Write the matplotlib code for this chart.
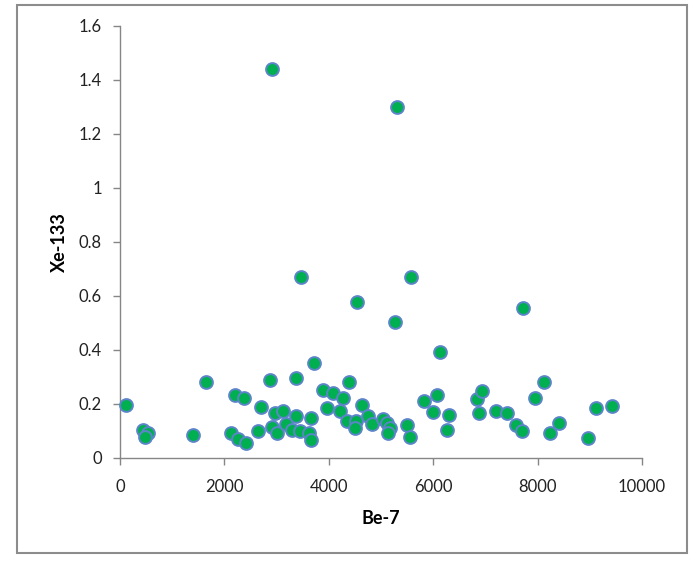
import numpy as np
import matplotlib.pyplot as plt
from matplotlib.patches import Rectangle
from matplotlib.ticker import FuncFormatter, MultipleLocator

# Be-7 vs Xe-133
be7 = [115, 435, 531, 479, 1406, 1640, 2196, 2378, 2123, 2253, 2422, 2646,
       2704, 2867, 3365, 2972, 3131, 3381, 3663, 2909, 3016, 3174, 3292, 3452,
       3624, 3653, 3707, 3887, 4079, 4270, 3964, 4205, 4378, 4340, 4516, 4497,
       4631, 4746, 4836, 5037, 5120, 5164, 5126, 5498, 5547, 5833, 6079, 5996,
       6295, 6265, 6123, 6840, 6928, 6871, 7200, 7415, 7593, 7703, 7958, 8130,
       8245, 8405, 8968, 9118, 9429,
       2915, 5312, 3471, 4545, 5273, 5580, 7728]
xe133 = [0.196, 0.104, 0.094, 0.077, 0.084, 0.280, 0.232, 0.221, 0.091, 0.069,
         0.056, 0.101, 0.190, 0.289, 0.297, 0.168, 0.174, 0.156, 0.147, 0.114,
         0.091, 0.125, 0.102, 0.100, 0.093, 0.065, 0.351, 0.253, 0.242, 0.221,
         0.186, 0.175, 0.281, 0.137, 0.137, 0.111, 0.196, 0.154, 0.127, 0.144,
         0.131, 0.110, 0.091, 0.122, 0.078, 0.210, 0.234, 0.172, 0.159, 0.104,
         0.391, 0.217, 0.247, 0.168, 0.173, 0.166, 0.124, 0.101, 0.221, 0.283,
         0.091, 0.129, 0.074, 0.186, 0.193,
         1.441, 1.300, 0.670, 0.578, 0.504, 0.670, 0.556]

plt.rcParams['font.family'] = ['Lato', 'DejaVu Sans']
axis_grey = '#868686'

fig = plt.figure(figsize=(6.89, 5.66), dpi=100)
ax = fig.add_axes([120 / 689, 1 - 458 / 566, 522 / 689, 432 / 566])

ax.scatter(be7, xe133, s=85, facecolor='#00B050', edgecolor='#5B85C8',
           linewidths=1.4, zorder=3, clip_on=False)

ax.set_xlim(0, 10000)
ax.set_ylim(0, 1.6)
ax.xaxis.set_major_locator(MultipleLocator(2000))
ax.yaxis.set_major_locator(MultipleLocator(0.2))
ax.yaxis.set_major_formatter(FuncFormatter(lambda v, p: '%g' % round(v, 1)))

ax.spines.right.set_visible(False)
ax.spines.top.set_visible(False)
for s in ['left', 'bottom']:
    ax.spines[s].set_color(axis_grey)
    ax.spines[s].set_linewidth(1.0)
ax.tick_params(axis='both', direction='out', length=5, width=1.0,
               color=axis_grey, labelsize=12, labelcolor='#222222')
ax.tick_params(axis='x', pad=10)
ax.tick_params(axis='y', pad=8)

ax.set_xlabel('Be-7', fontsize=13, fontweight='bold', labelpad=11)
ax.set_ylabel('Xe-133', fontsize=13, fontweight='bold', labelpad=8)

# outer chart border
fig.patches.append(Rectangle((17 / 689, 1 - 553 / 566), 670 / 689, 548 / 566,
                             transform=fig.transFigure, fill=False,
                             edgecolor='#8c8c8c', linewidth=1.5))

fig.savefig('out.png', dpi=100)
